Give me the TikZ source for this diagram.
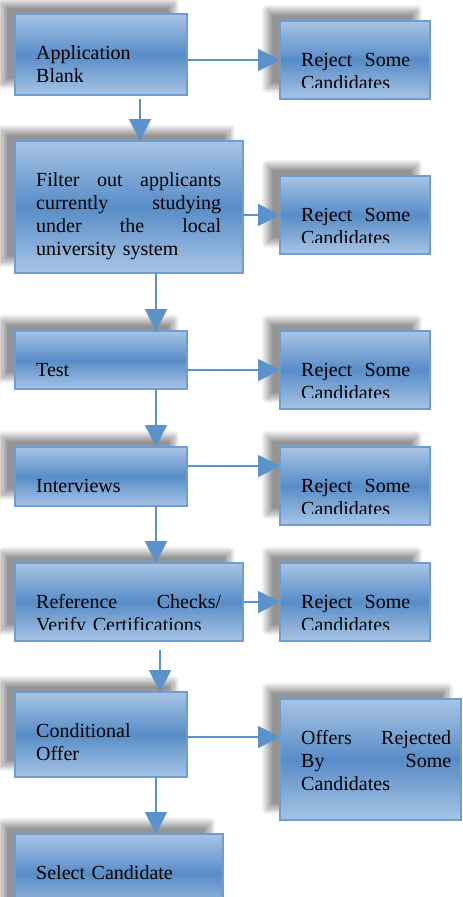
\documentclass[tikz,border=0pt]{standalone}
\usepackage{fontspec}
\setmainfont{Liberation Serif}
\usetikzlibrary{arrows.meta,shadows.blur}

\definecolor{boxlight}{RGB}{168,196,229}
\definecolor{boxdark}{RGB}{88,140,199}
\definecolor{boxline}{RGB}{108,158,210}
\definecolor{arrowblue}{RGB}{91,146,203}

\tikzset{
  box/.style={draw=boxline, line width=2pt, anchor=north west,
    inner sep=0pt, outer sep=0pt,
    top color=boxlight, bottom color=boxlight, middle color=boxdark,
    blur shadow={shadow xshift=-13pt, shadow yshift=11pt,
      shadow blur radius=6pt, shadow blur steps=12, shadow opacity=42}},
  txt/.style={anchor=north west, inner sep=0pt, align=left,
    text width=150pt, text=black, font=\fontsize{20}{23}\selectfont},
  arr/.style={draw=arrowblue, line width=2pt,
    -{Triangle[length=22pt,width=22pt]}}
}

\begin{document}
\begin{tikzpicture}[x=1pt,y=-1pt]
  \clip (0,0) rectangle (463,897);

  % left column
  \node[box, minimum width=172pt, minimum height=81pt]  (l1) at (15,14)  {};
  \node[box, minimum width=228pt, minimum height=132pt] (l2) at (15,141) {};
  \node[box, minimum width=172pt, minimum height=58pt]  (l3) at (15,331) {};
  \node[box, minimum width=172pt, minimum height=59pt]  (l4) at (15,447) {};
  \node[box, minimum width=228pt, minimum height=78pt]  (l5) at (15,563) {};
  \node[box, minimum width=172pt, minimum height=85pt]  (l6) at (15,692) {};
  \node[box, minimum width=208pt, minimum height=80pt]  (l7) at (15,834) {};

  % right column
  \foreach \i/\y in {1/21, 2/176, 3/331, 4/447, 5/563} {
    \node[box, minimum width=150pt, minimum height=78pt] (r\i) at (280,\y) {};
    \begin{scope}
      \clip (r\i.north west) rectangle ([yshift=12pt]r\i.south east);
      \node[txt, text width=109pt] (rt\i) at ([xshift=21pt,yshift=-29pt]r\i.north west)
        {\strut Reject\hfill Some\\Candidates};
    \end{scope}
  }
  \node[box, minimum width=181pt, minimum height=121pt] (r6) at (280,699) {};

  % texts
  \node[txt] (lt1) at ([xshift=21pt,yshift=-29pt]l1.north west) {\strut Application\\Blank};
  \node[txt, text width=185pt] (lt2) at ([xshift=21pt,yshift=-29pt]l2.north west)
    {\strut Filter\hfill out\hfill applicants\\currently\hfill studying\\under\hfill the\hfill local\\university system};
  \node[txt] (lt3) at ([xshift=21pt,yshift=-29pt]l3.north west) {\strut Test};
  \node[txt] (lt4) at ([xshift=21pt,yshift=-29pt]l4.north west) {\strut Interviews};
  \begin{scope}
    \clip (l5.north west) rectangle ([yshift=12pt]l5.south east);
    \node[txt, text width=185pt] (lt5) at ([xshift=21pt,yshift=-29pt]l5.north west)
      {\strut Reference\hfill Checks/\\Verify Certifications};
  \end{scope}
  \node[txt] (lt6) at ([xshift=21pt,yshift=-29pt]l6.north west) {\strut Conditional\\Offer};
  \node[txt, text width=185pt] (lt7) at ([xshift=21pt,yshift=-29pt]l7.north west) {\strut Select Candidate};
  \node[txt] (rt6) at ([xshift=21pt,yshift=-29pt]r6.north west)
    {\strut Offers\hfill Rejected\\By\hfill Some\\Candidates};

  % down the column
  \draw[arr] ([xshift=39pt,yshift=-4pt]l1.south) -- ([xshift=11pt]l2.north);
  \draw[arr] ([xshift=27pt]l2.south) -- ([xshift=27pt]l2.south |- l3.north);
  \draw[arr] ([xshift=55pt]l3.south) -- ([xshift=55pt]l3.south |- l4.north);
  \draw[arr] ([xshift=55pt]l4.south) -- ([xshift=55pt]l4.south |- l5.north);
  \draw[arr] ([xshift=31pt,yshift=-9pt]l5.south) -- ([xshift=31pt]l5.south |- l6.north);
  \draw[arr] ([xshift=55pt]l6.south) -- ([xshift=55pt]l6.south |- l7.north);

  % to the right
  \draw[arr] (l1.east |- r1.west) -- (r1.west);
  \draw[arr] (l2.east |- r2.west) -- (r2.west);
  \draw[arr] (l3.east |- r3.west) -- (r3.west);
  \draw[arr] ([yshift=10.5pt]l4.east) -- ([yshift=10.5pt]l4.east -| r4.west);
  \draw[arr] (l5.east) -- (r5.west);
  \draw[arr] ([yshift=-2.5pt]l6.east) -- ([yshift=-2.5pt]l6.east -| r6.west);
\end{tikzpicture}
\end{document}
